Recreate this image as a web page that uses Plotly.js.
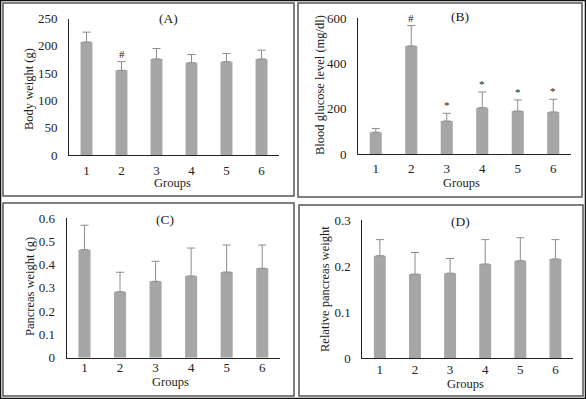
<!DOCTYPE html>
<html>
<head>
<meta charset="utf-8">
<script src="https://cdn.plot.ly/plotly-3.0.1.min.js"></script>
<style>html,body{margin:0;padding:0;background:#fff;}#chart{width:586px;height:399px;}</style>
</head>
<body>
<div id="chart"></div>
<script>
// ---- data ----
const groups = ['1', '2', '3', '4', '5', '6'];
const bodyWeight = [207, 155, 176, 169, 171, 176];
const bodyWeightErr = [18, 16, 19, 15, 15, 16];
const bodyWeightSig = ['', '#', '', '', '', ''];
const glucose = [96, 478, 146, 205, 190, 186];
const glucoseErr = [17, 90, 34, 69, 49, 56];
const glucoseSig = ['', '#', '*', '*', '*', '*'];
const pancreasWeight = [0.464, 0.283, 0.328, 0.351, 0.368, 0.384];
const pancreasWeightErr = [0.105, 0.084, 0.086, 0.12, 0.116, 0.1];
const relPancreas = [0.223, 0.183, 0.185, 0.205, 0.212, 0.216];
const relPancreasErr = [0.035, 0.047, 0.032, 0.053, 0.05, 0.042];

const panelLabels = ['(A)', '(B)', '(C)', '(D)'];
const yTitles = ['Body weight (g)', 'Blood glucose level (mg/dl)', 'Pancreas weight (g)', 'Relative pancreas weight'];
const xTitle = 'Groups';

// ---- layout helpers ----
const W = 586, H = 399;
const fx = px => px / W;
const fy = py => 1 - py / H;
const serif = '"Liberation Serif", "Times New Roman", Times, serif';
const barColor = '#a6a6a6';
const errColor = '#8c8c8c';

function barTrace(vals, errs, xa, ya) {
  return {
    type: 'bar', x: groups, y: vals, xaxis: xa, yaxis: ya,
    width: 0.34, marker: {color: barColor, line: {width: 0}},
    error_y: {type: 'data', symmetric: false, array: errs, arrayminus: groups.map(() => 0),
              color: errColor, thickness: 1, width: 4},
    hoverinfo: 'skip', showlegend: false
  };
}

const data = [
  barTrace(bodyWeight, bodyWeightErr, 'x', 'y'),
  barTrace(glucose, glucoseErr, 'x2', 'y2'),
  barTrace(pancreasWeight, pancreasWeightErr, 'x3', 'y3'),
  barTrace(relPancreas, relPancreasErr, 'x4', 'y4')
];

function xAx(l, r, anchor, standoff) {
  return {domain: [fx(l), fx(r)], anchor: anchor, type: 'category', range: [-0.5, 5.5],
    showline: true, linecolor: '#222', linewidth: 1, ticks: '', showgrid: false, zeroline: false,
    tickfont: {family: serif, size: 13, color: '#222'}, ticklabelstandoff: standoff, fixedrange: true};
}
function yAx(bottom, top, range, dtick, anchor) {
  return {domain: [fy(bottom), fy(top)], anchor: anchor, range: range, dtick: dtick, tick0: 0,
    showline: true, linecolor: '#222', linewidth: 1, ticks: '', showgrid: false, zeroline: false,
    tickfont: {family: serif, size: 13, color: '#222'}, ticklabelstandoff: 8, fixedrange: true};
}

const annotations = [];
const panelPos = [[168, 18], [460, 17], [165, 219], [460, 221]];
panelLabels.forEach((t, i) => annotations.push({text: t, xref: 'paper', yref: 'paper',
  x: fx(panelPos[i][0]), y: fy(panelPos[i][1]), xanchor: 'center', yanchor: 'middle', showarrow: false,
  font: {family: serif, size: 13.5, color: '#222'}}));
const groupsPos = [[172, 183], [461, 183], [170, 382], [465, 384]];
groupsPos.forEach(p => annotations.push({text: xTitle, xref: 'paper', yref: 'paper',
  x: fx(p[0]), y: fy(p[1]), xanchor: 'center', yanchor: 'middle', showarrow: false,
  font: {family: serif, size: 12.5, color: '#222'}}));
const yTitlePos = [[29, 89], [320, 85], [30, 287], [325, 289]];
yTitles.forEach((t, i) => annotations.push({text: t, xref: 'paper', yref: 'paper', textangle: -90,
  x: fx(yTitlePos[i][0]), y: fy(yTitlePos[i][1]), xanchor: 'center', yanchor: 'middle', showarrow: false,
  font: {family: serif, size: 12.5, color: '#222'}}));

function sigMarks(sig, vals, errs, xa, ya) {
  sig.forEach((s, i) => { if (s) annotations.push({text: s, xref: xa, yref: ya, x: i, y: vals[i] + errs[i],
    yanchor: 'bottom', xanchor: 'center', showarrow: false, yshift: 0,
    font: {family: serif, size: 11, color: '#222'}}); });
}
sigMarks(bodyWeightSig, bodyWeight, bodyWeightErr, 'x', 'y');
sigMarks(glucoseSig, glucose, glucoseErr, 'x2', 'y2');

const boxes = [[3, 3, 294, 196], [298, 3, 582, 197], [3, 203, 294, 396], [299, 205, 583, 396]];
const shapes = boxes.map(b => ({type: 'rect', xref: 'paper', yref: 'paper',
  x0: fx(b[0]), x1: fx(b[2]), y0: fy(b[3]), y1: fy(b[1]), line: {color: '#555', width: 1.5}}));
shapes.push({type: 'rect', xref: 'paper', yref: 'paper', x0: fx(0.5), x1: fx(585.5), y0: fy(398.5), y1: fy(0.5),
  line: {color: '#111', width: 1.5}});

const layout = {
  width: W, height: H, margin: {l: 0, r: 0, t: 0, b: 0},
  paper_bgcolor: '#fff', plot_bgcolor: 'rgba(0,0,0,0)', showlegend: false, bargap: 0.66,
  font: {family: serif},
  xaxis: xAx(69, 279, 'y', 3), yaxis: yAx(155, 18.5, [0, 250], 50, 'x'),
  xaxis2: xAx(358, 571, 'y2', 2), yaxis2: yAx(154, 18.3, [0, 600], 200, 'x2'),
  xaxis3: xAx(66.7, 280, 'y3', -2), yaxis3: yAx(357.7, 218, [0, 0.6], 0.1, 'x3'),
  xaxis4: xAx(362.3, 573, 'y4', -1), yaxis4: yAx(358.3, 220.3, [0, 0.3], 0.1, 'x4'),
  annotations: annotations, shapes: shapes
};

Plotly.newPlot('chart', data, layout, {displayModeBar: false, staticPlot: true});
</script>
</body>
</html>
